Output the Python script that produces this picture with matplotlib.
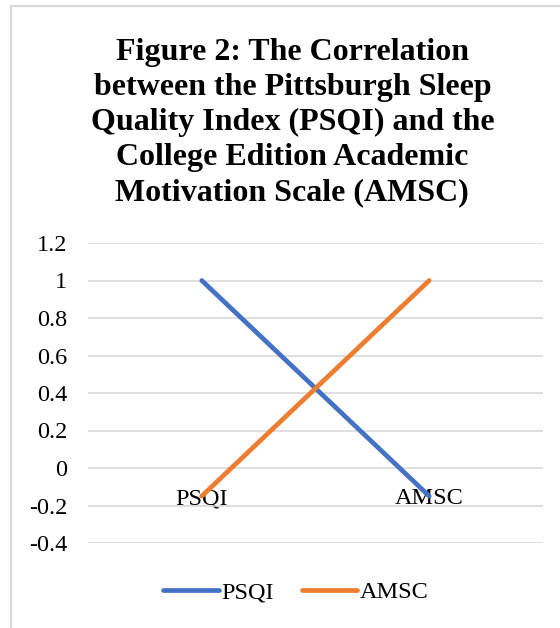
import matplotlib.pyplot as plt
from matplotlib.patches import Rectangle

categories = ['PSQI', 'AMSC']
psqi = [1, -0.15]
amsc = [-0.15, 1]
yticks = [-0.4, -0.2, 0, 0.2, 0.4, 0.6, 0.8, 1, 1.2]
ytick_labels = ['-0.4', '-0.2', '0', '0.2', '0.4', '0.6', '0.8', '1', '1.2']

plt.rcParams['font.family'] = ['Liberation Serif', 'DejaVu Serif']

fig = plt.figure(figsize=(5.6, 6.28), dpi=100)
ax = fig.add_axes([88/560, 1-543/628, (543-88)/560, 300/628])

x = range(len(categories))
ax.plot(x, psqi, color='#4472C4', lw=3.4, solid_capstyle='round', label='PSQI')
ax.plot(x, amsc, color='#ED7D31', lw=3.4, solid_capstyle='round', label='AMSC')

for s in ax.spines.values():
    s.set_visible(False)
ax.spines['bottom'].set_position(('data', 0))

ax.set_xlim(-0.5, 1.5)
ax.set_ylim(-0.4, 1.2)
ax.set_yticks(yticks)
ax.set_yticklabels(ytick_labels)
ax.set_xticks(list(x))
ax.set_xticklabels(categories)
ax.yaxis.grid(True, color='#D9D9D9', lw=1.2)
ax.set_axisbelow(True)
ax.tick_params(axis='y', length=0, pad=15, labelsize=17.5)
ax.tick_params(axis='x', length=0, pad=14.5, labelsize=17.5)

fig.text(0.522, 0.805,
         'Figure 2: The Correlation\nbetween the Pittsburgh Sleep\nQuality Index (PSQI) and the\nCollege Edition Academic\nMotivation Scale (AMSC)',
         ha='center', va='center', fontsize=23, fontweight='bold', linespacing=1.28)

fig.legend(loc='center', bbox_to_anchor=(0.528, 0.057), ncol=2, frameon=False,
           fontsize=17.5, handlelength=2.3, handletextpad=0.1, columnspacing=1.15)

fig.patches.append(Rectangle((11/560, -0.1), 1.2, 1.1 - 6/628, transform=fig.transFigure,
                             fill=False, edgecolor='#D9D9D9', lw=1.5))

fig.savefig('out.png', dpi=100)
